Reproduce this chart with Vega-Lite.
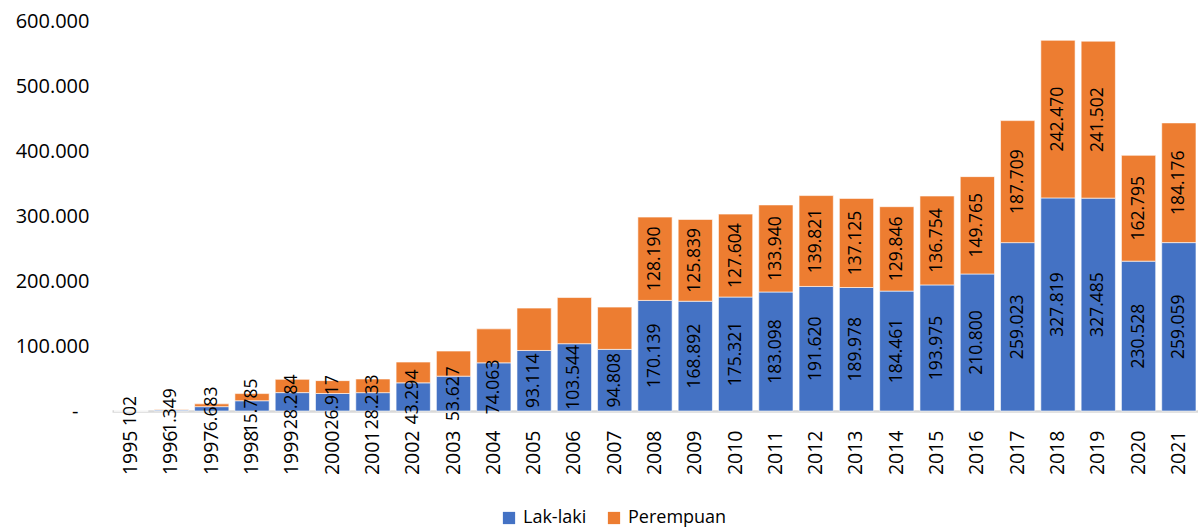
{
  "$schema": "https://vega.github.io/schema/vega-lite/v6.json",
  "width": 1086,
  "height": 390,
  "autosize": {"type": "none"},
  "padding": {"left": 112, "top": 21, "right": 0, "bottom": 120},
  "config": {
    "view": {"stroke": null},
    "locale": {"number": {"decimal": ",", "thousands": ".", "grouping": [3], "currency": ["", ""]}},
    "font": "Open Sans"
  },
  "data": {
    "values": [
      {"year": "1995", "sex": "Lak-laki", "value": 102},
      {"year": "1995", "sex": "Perempuan", "value": 60},
      {"year": "1996", "sex": "Lak-laki", "value": 1349},
      {"year": "1996", "sex": "Perempuan", "value": 1100},
      {"year": "1997", "sex": "Lak-laki", "value": 6683},
      {"year": "1997", "sex": "Perempuan", "value": 4300},
      {"year": "1998", "sex": "Lak-laki", "value": 15785},
      {"year": "1998", "sex": "Perempuan", "value": 11000},
      {"year": "1999", "sex": "Lak-laki", "value": 28284},
      {"year": "1999", "sex": "Perempuan", "value": 20400},
      {"year": "2000", "sex": "Lak-laki", "value": 26917},
      {"year": "2000", "sex": "Perempuan", "value": 19800},
      {"year": "2001", "sex": "Lak-laki", "value": 28233},
      {"year": "2001", "sex": "Perempuan", "value": 21000},
      {"year": "2002", "sex": "Lak-laki", "value": 43294},
      {"year": "2002", "sex": "Perempuan", "value": 32000},
      {"year": "2003", "sex": "Lak-laki", "value": 53627},
      {"year": "2003", "sex": "Perempuan", "value": 38600},
      {"year": "2004", "sex": "Lak-laki", "value": 74063},
      {"year": "2004", "sex": "Perempuan", "value": 52300},
      {"year": "2005", "sex": "Lak-laki", "value": 93114},
      {"year": "2005", "sex": "Perempuan", "value": 65200},
      {"year": "2006", "sex": "Lak-laki", "value": 103544},
      {"year": "2006", "sex": "Perempuan", "value": 71000},
      {"year": "2007", "sex": "Lak-laki", "value": 94808},
      {"year": "2007", "sex": "Perempuan", "value": 65000},
      {"year": "2008", "sex": "Lak-laki", "value": 170139},
      {"year": "2008", "sex": "Perempuan", "value": 128190},
      {"year": "2009", "sex": "Lak-laki", "value": 168892},
      {"year": "2009", "sex": "Perempuan", "value": 125839},
      {"year": "2010", "sex": "Lak-laki", "value": 175321},
      {"year": "2010", "sex": "Perempuan", "value": 127604},
      {"year": "2011", "sex": "Lak-laki", "value": 183098},
      {"year": "2011", "sex": "Perempuan", "value": 133940},
      {"year": "2012", "sex": "Lak-laki", "value": 191620},
      {"year": "2012", "sex": "Perempuan", "value": 139821},
      {"year": "2013", "sex": "Lak-laki", "value": 189978},
      {"year": "2013", "sex": "Perempuan", "value": 137125},
      {"year": "2014", "sex": "Lak-laki", "value": 184461},
      {"year": "2014", "sex": "Perempuan", "value": 129846},
      {"year": "2015", "sex": "Lak-laki", "value": 193975},
      {"year": "2015", "sex": "Perempuan", "value": 136754},
      {"year": "2016", "sex": "Lak-laki", "value": 210800},
      {"year": "2016", "sex": "Perempuan", "value": 149765},
      {"year": "2017", "sex": "Lak-laki", "value": 259023},
      {"year": "2017", "sex": "Perempuan", "value": 187709},
      {"year": "2018", "sex": "Lak-laki", "value": 327819},
      {"year": "2018", "sex": "Perempuan", "value": 242470},
      {"year": "2019", "sex": "Lak-laki", "value": 327485},
      {"year": "2019", "sex": "Perempuan", "value": 241502},
      {"year": "2020", "sex": "Lak-laki", "value": 230528},
      {"year": "2020", "sex": "Perempuan", "value": 162795},
      {"year": "2021", "sex": "Lak-laki", "value": 259059},
      {"year": "2021", "sex": "Perempuan", "value": 184176}
    ]
  },
  "encoding": {
    "x": {
      "field": "year",
      "type": "ordinal",
      "scale": {"paddingInner": 0.15, "paddingOuter": 0.05},
      "axis": {
        "title": null,
        "labelAngle": 270,
        "labelAlign": "right",
        "labelBaseline": "middle",
        "labelFontSize": 19.5,
        "labelColor": "#000000",
        "labelPadding": 19,
        "ticks": false,
        "domainColor": "#d9d9d9",
        "domainWidth": 2.5,
        "labelOverlap": false
      }
    }
  },
  "layer": [
    {
      "mark": {"type": "bar", "stroke": "#ffffff", "strokeWidth": 0.6},
      "encoding": {
        "y": {
          "field": "value",
          "type": "quantitative",
          "aggregate": "sum",
          "stack": "zero",
          "scale": {"domain": [0, 600000]},
          "axis": {
            "title": null,
            "values": [0, 100000, 200000, 300000, 400000, 500000, 600000],
            "format": ",d",
            "labelExpr": "datum.value == 0 ? '-' : datum.label",
            "labelFontSize": 20,
            "labelColor": "#000000",
            "labelPadding": {"condition": {"test": "datum.value == 0", "value": 34}, "value": 23},
            "labelOverlap": false,
            "labelFlush": false,
            "ticks": false,
            "domain": false,
            "grid": false
          }
        },
        "color": {
          "field": "sex",
          "type": "nominal",
          "scale": {"domain": ["Lak-laki", "Perempuan"], "range": ["#4472C4", "#ED7D31"]},
          "legend": {
            "title": null,
            "orient": "none",
            "direction": "horizontal",
            "legendX": 388,
            "legendY": 488,
            "symbolType": "square",
            "symbolSize": 150,
            "symbolStrokeWidth": 0,
            "labelFontSize": 18,
            "labelColor": "#000000",
            "labelOffset": 5,
            "columnPadding": 18
          }
        },
        "order": {"field": "sex", "sort": "ascending"}
      }
    },
    {
      "transform": [
        {"stack": "value", "groupby": ["year"], "sort": [{"field": "sex", "order": "ascending"}], "as": ["v0", "v1"]},
        {"calculate": "(datum.v0 + datum.v1) / 2", "as": "mid"},
        {"filter": "datum.sex == 'Lak-laki' || toNumber(datum.year) >= 2008"}
      ],
      "mark": {"type": "text", "angle": 270, "align": "center", "baseline": "middle", "fontSize": 17.5, "color": "#000000"},
      "encoding": {
        "y": {"field": "mid", "type": "quantitative"},
        "text": {"field": "value", "type": "quantitative", "format": ",d"}
      }
    }
  ]
}
